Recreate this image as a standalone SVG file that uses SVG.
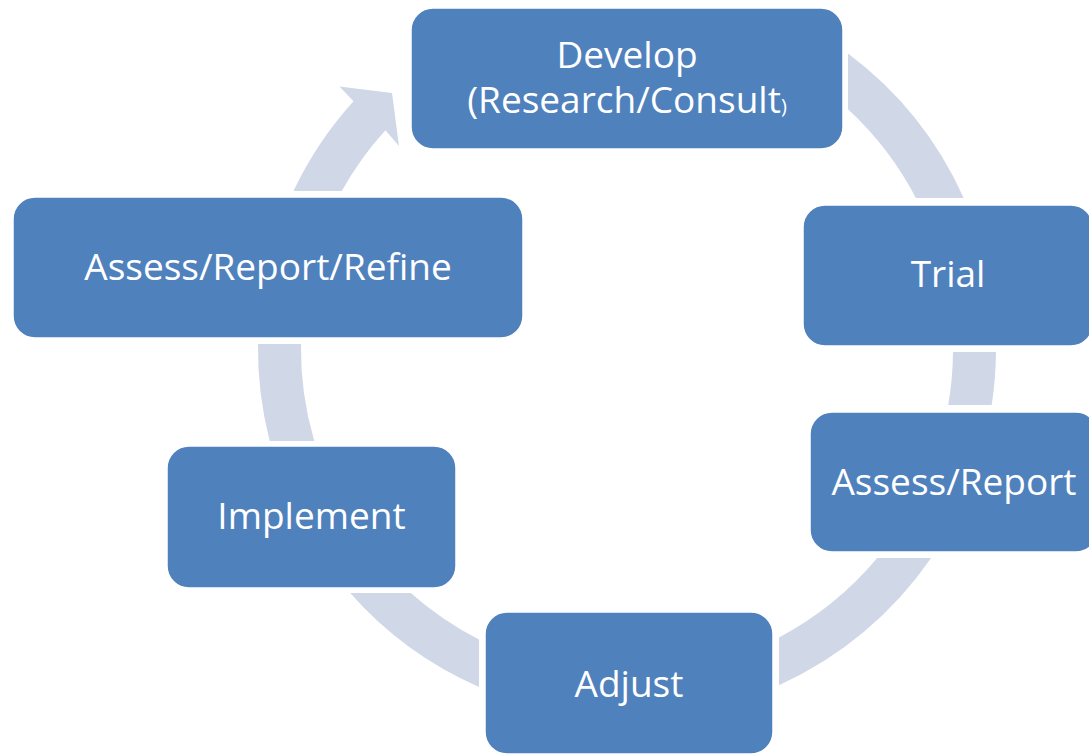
<svg xmlns="http://www.w3.org/2000/svg" width="1089" height="756" viewBox="0 0 1089 756">
  <style>
    .ring { fill: #D0D8E8; }
    .box { fill: #4F81BD; stroke: #FFFFFF; stroke-width: 1.5; }
    .lbl { fill: #FFFFFF; font-family: "Open Sans", "Noto Sans", "Liberation Sans", sans-serif; font-size: 37px; text-anchor: middle; }
  </style>
  <rect width="1089" height="756" fill="#FFFFFF"/>
  <g id="connectors">
    <path class="ring" d="M 848,53.5 A 369 369 0 0 1 963.7,198 L 915.9,198 A 326 326 0 0 0 848,109.3 Z"/>
    <path class="ring" d="M 996,352 A 369 369 0 0 1 991.7,405 L 948.2,405 A 326 326 0 0 0 953,352 Z"/>
    <path class="ring" d="M 931.1,558 A 369 369 0 0 1 779,685.2 L 779,637.4 A 326 326 0 0 0 877.2,558 Z"/>
    <path class="ring" d="M 479,687 A 369 369 0 0 1 350.2,593 L 410.8,593 A 326 326 0 0 0 479,639.5 Z"/>
    <path class="ring" d="M 269.7,441 A 369 369 0 0 1 258,344 L 301,344 A 326 326 0 0 0 314.3,441 Z"/>
    <path class="ring" d="M 293.5,191 A 369 369 0 0 1 353.5,101.3 L 339.5,86.5 L 392,93 L 399,146 L 385.4,130.2 A 326 326 0 0 0 341.8,191 Z"/>
  </g>
  <g id="node-develop">
    <rect class="box" x="411" y="8" width="432" height="141" rx="22"/>
    <text class="lbl"><tspan x="627" y="68">Develop</tspan><tspan x="627" y="113">(Research/Consult<tspan font-size="20px">)</tspan></tspan></text>
  </g>
  <g id="node-trial">
    <rect class="box" x="803" y="205" width="290" height="141" rx="22"/>
    <text class="lbl" x="948" y="287">Trial</text>
  </g>
  <g id="node-assess-report">
    <rect class="box" x="810" y="412" width="288" height="140" rx="22"/>
    <text class="lbl" x="954" y="495">Assess/Report</text>
  </g>
  <g id="node-adjust">
    <rect class="box" x="485" y="612" width="288" height="142" rx="22"/>
    <text class="lbl" x="629" y="697">Adjust</text>
  </g>
  <g id="node-implement">
    <rect class="box" x="167" y="446" width="289" height="142" rx="22"/>
    <text class="lbl" x="311.5" y="529">Implement</text>
  </g>
  <g id="node-assess-report-refine">
    <rect class="box" x="13" y="197" width="510" height="141" rx="22"/>
    <text class="lbl" x="268" y="280">Assess/Report/Refine</text>
  </g>
</svg>
